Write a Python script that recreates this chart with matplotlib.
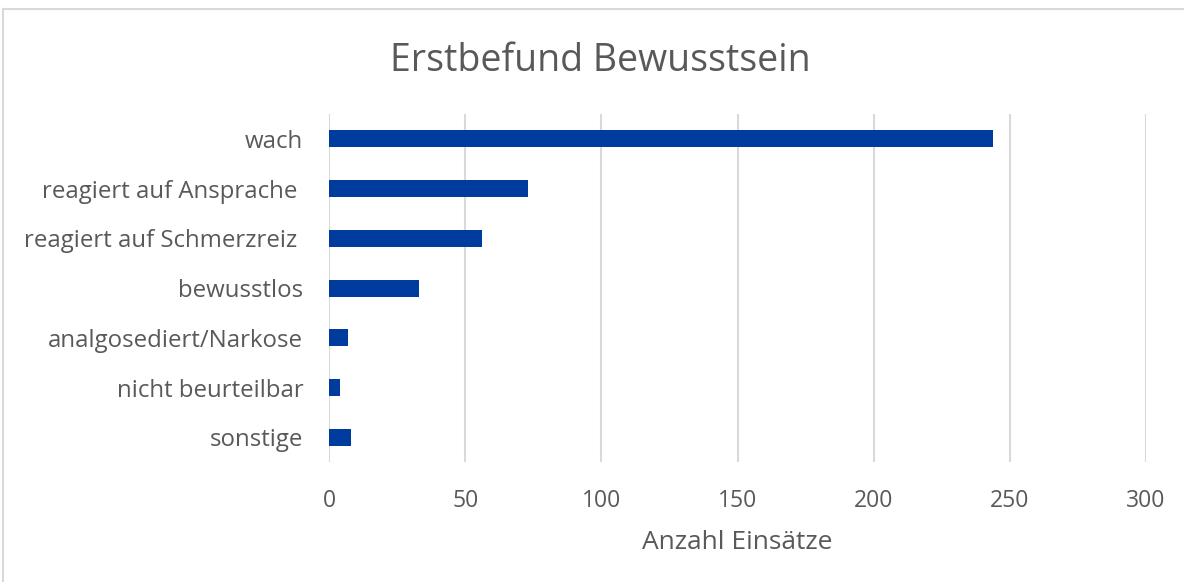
import matplotlib
matplotlib.use('Agg')
import matplotlib.pyplot as plt
from matplotlib.lines import Line2D

# Daten
kategorien = ['wach', 'reagiert auf Ansprache ', 'reagiert auf Schmerzreiz ',
              'bewusstlos', 'analgosediert/Narkose', 'nicht beurteilbar',
              'sonstige']
anzahl = [244, 73, 56, 33, 7, 4, 8]
x_ticks = [0, 50, 100, 150, 200, 250, 300]

plt.rcParams['font.family'] = ['Open Sans', 'DejaVu Sans']
grau = '#595959'
balken_farbe = '#003C9E'

fig = plt.figure(figsize=(11.84, 5.82), dpi=100)
ax = fig.add_axes([0.2779, 0.206, 0.690, 0.598])

ax.barh(range(len(kategorien)), anzahl, height=0.34, color=balken_farbe,
        zorder=3)
ax.set_ylim(len(kategorien) - 0.5, -0.5)
ax.set_yticks(range(len(kategorien)))
ax.set_yticklabels(kategorien, fontsize=17.3, color=grau)
ax.set_xlim(0, 300)
ax.set_xticks(x_ticks)
ax.set_xticklabels([str(t) for t in x_ticks], fontsize=16.5, color=grau)
ax.tick_params(axis='y', length=0, pad=18.5)
ax.tick_params(axis='x', length=0, pad=19.5)
ax.grid(axis='x', color='#d9d9d9', linewidth=1.5, zorder=0)
for s in ax.spines.values():
    s.set_visible(False)

ax.set_xlabel('Anzahl Einsätze', fontsize=19, color=grau, labelpad=12)
fig.text(0.507, 0.896, 'Erstbefund Bewusstsein', fontsize=27, color=grau,
         ha='center', va='center')

# Rahmen
fig.add_artist(Line2D([0.0025, 1.0], [1 - 9 / 582, 1 - 9 / 582],
                      color='#d9d9d9', linewidth=1.5))
fig.add_artist(Line2D([0.0025, 0.0025], [0.0, 1 - 9 / 582],
                      color='#d9d9d9', linewidth=1.5))

fig.savefig('out.png', dpi=100)
